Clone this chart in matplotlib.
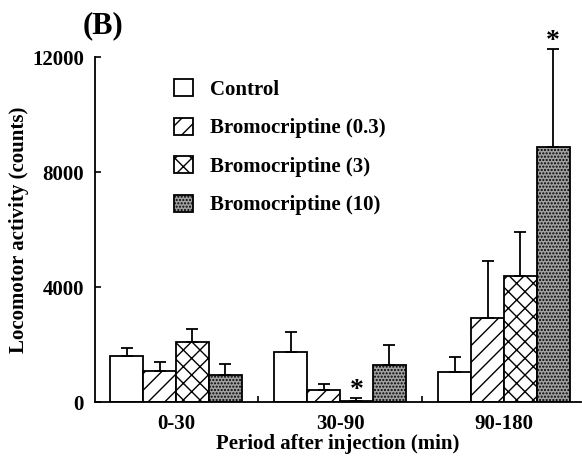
import matplotlib
matplotlib.use("Agg")
import matplotlib.pyplot as plt
import numpy as np

groups = ['0-30', '30-90', '90-180']
series_names = ['Control', 'Bromocriptine (0.3)', 'Bromocriptine (3)', 'Bromocriptine (10)']
control = [1615, 1755, 1058]
control_err = [270, 690, 500]
bromo_03 = [1081, 419, 2941]
bromo_03_err = [325, 210, 1965]
bromo_3 = [2103, 45, 4395]
bromo_3_err = [443, 95, 1535]
bromo_10 = [952, 1280, 8871]
bromo_10_err = [384, 697, 3408]
# significance markers: (series index, group index)
significant = [(2, 1), (3, 2)]
yticks = [0, 4000, 8000, 12000]

plt.rcParams['font.family'] = ['Liberation Serif', 'DejaVu Serif']
plt.rcParams['font.weight'] = 'bold'
plt.rcParams['hatch.linewidth'] = 1.0

fig = plt.figure(figsize=(5.82, 4.57), dpi=100)
W, H = 582, 457
ax = fig.add_axes([95 / W, 1 - 402 / H, (581 - 95) / W, (402 - 57.3) / H])

values = [control, bromo_03, bromo_3, bromo_10]
errs = [control_err, bromo_03_err, bromo_3_err, bromo_10_err]
faces = ['white', 'white', 'white', '#a0a0a0']
hatches = [None, '//', 'xx', '.....']
bw = 0.2
x = np.arange(len(groups))
for i, (v, e) in enumerate(zip(values, errs)):
    pos = x + (i - 1.5) * bw
    ax.bar(pos, v, width=bw, color=faces[i], edgecolor='black', linewidth=1.3,
           hatch=hatches[i], label=series_names[i], zorder=2)
    ax.errorbar(pos, v, yerr=[np.zeros(len(v)), e], fmt='none', ecolor='black',
                elinewidth=1.3, capsize=4.5, capthick=1.3, clip_on=False, zorder=3)

for si, gi in significant:
    pos = x[gi] + (si - 1.5) * bw
    top = values[si][gi] + errs[si][gi]
    ax.annotate('*', (pos, top), xytext=(0, -3.5), textcoords='offset points',
                ha='center', va='bottom', fontsize=20, fontweight='bold',
                annotation_clip=False)

ax.set_xlim(-0.494, 2.47)
ax.set_ylim(0, 12000)
ax.set_yticks(yticks)
ax.set_yticklabels([str(t) for t in yticks])
ax.set_xticks(x)
ax.set_xticklabels(groups)
ax.set_xticks([0.5, 1.5], minor=True)
ax.tick_params(axis='x', which='major', length=0, pad=8.5, labelsize=15)
ax.tick_params(axis='x', which='minor', direction='in', length=4, width=1.2)
ax.tick_params(axis='y', direction='in', length=4, width=1.2, pad=8, labelsize=15)
for lbl in ax.get_xticklabels() + ax.get_yticklabels():
    lbl.set_fontweight('bold')
for s in ['top', 'right']:
    ax.spines[s].set_visible(False)
for s in ['left', 'bottom']:
    ax.spines[s].set_linewidth(1.3)

ax.set_xlabel('Period after injection (min)', fontsize=15, fontweight='bold', labelpad=0.5)
ax.set_ylabel('Locomotor activity (counts)', fontsize=15, fontweight='bold', labelpad=2)

fig.text(103 / W, 1 - 26 / H, '(B)', fontsize=22, fontweight='bold', ha='center', va='center')

leg = ax.legend(loc='upper left', bbox_to_anchor=(174 / W, 1 - 79 / H),
                bbox_transform=fig.transFigure, frameon=False, fontsize=15,
                handlelength=0.9, handleheight=0.9, handletextpad=0.85,
                labelspacing=0.85, borderpad=0, borderaxespad=0)
for t in leg.get_texts():
    t.set_fontweight('bold')

fig.savefig('out.png', dpi=100)
